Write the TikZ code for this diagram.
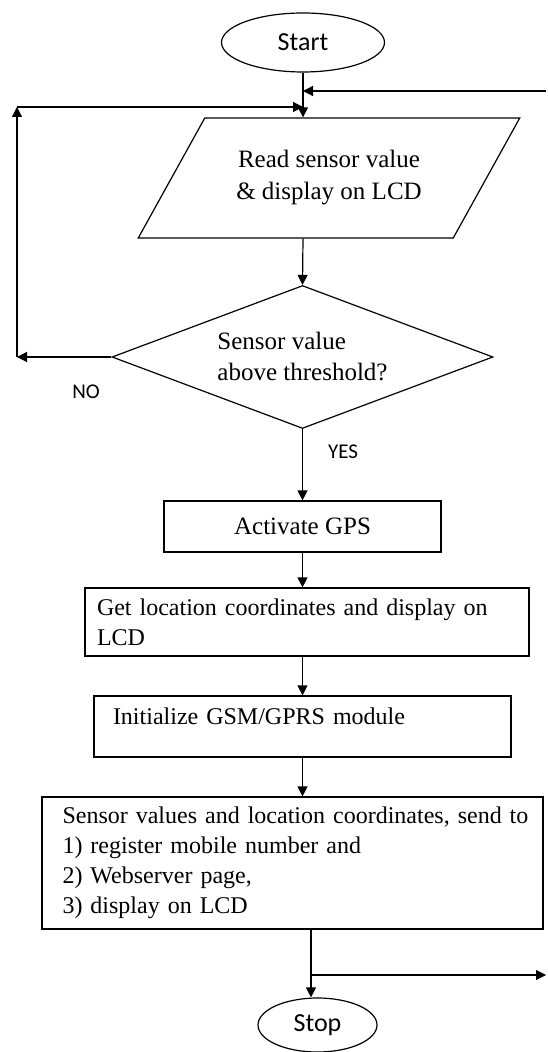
\documentclass[tikz,border=0pt]{standalone}
\usepackage{fontspec}
\setmainfont{Liberation Serif}
\newfontfamily\calibri{Carlito}
\usetikzlibrary{shapes.geometric,arrows.meta}
\tikzset{
  terminal/.style = {shape=ellipse, draw, inner sep=0pt,
                     font=\calibri\fontsize{13}{15}\selectfont},
  io/.style       = {shape=trapezium, draw, align=center,
                     trapezium left angle=52, trapezium right angle=128,
                     trapezium stretches=true,
                     font=\fontsize{12.5}{16}\selectfont},
  decision/.style = {shape=diamond, draw, align=left, inner sep=0pt,
                     font=\fontsize{12.5}{15.5}\selectfont},
  process/.style  = {shape=rectangle, draw, align=left,
                     font=\fontsize{12}{15}\selectfont},
  tag/.style      = {font=\calibri\fontsize{10.5}{12}\selectfont},
  flow/.style     = {-{Triangle[length=5pt,width=5pt]}}
}
\begin{document}
\begin{tikzpicture}[x=0.5pt, y=-0.5pt, line width=0.6pt]
  \useasboundingbox (0,0) rectangle (547,1052);

  \node[terminal, minimum width=81.5pt, minimum height=29.5pt] (start) at (303,42.5) {Start};
  \node[io, minimum width=191pt, minimum height=60pt] (read) at (329,178)
    {Read sensor value\\\& display on LCD};
  \node[decision, minimum width=190.5pt, minimum height=71.5pt, aspect=2.66] (check) at (302.5,357)
    {Sensor value\\above threshold?};
  \node[process, minimum width=138.5pt, minimum height=25.5pt, align=center,
        font=\fontsize{12.5}{15}\selectfont] (gps) at (302.5,526.5) {Activate GPS};
  \node[process, text width=218pt, inner xsep=2pt, minimum height=34pt] (loc) at (307,622)
    {\hspace*{4pt}Get location coordinates and display on\\
     \hspace*{4pt}LCD};
  \node[process, text width=189.5pt, inner xsep=9.5pt, minimum height=30.5pt,
        text height=10pt, text depth=12pt] (gsm) at (302.5,726.5) {Initialize GSM/GPRS module};
  \node[process, text width=246pt, inner xsep=2.25pt, minimum height=66pt] (send) at (292.5,863)
    {\hspace*{8pt}Sensor values and location coordinates, send to\\
     \hspace*{8pt}1) register mobile number and\\
     \hspace*{8pt}2) Webserver page,\\
     \hspace*{8pt}3) display on LCD};
  \node[terminal, minimum width=59.5pt, minimum height=27pt] (stop) at (317.5,1025) {Stop};

  \node[tag] (no) at (86,392) {NO};
  \node[tag] (yes) at (343,452) {YES};

  \coordinate (backin) at (546,91);
  \coordinate (loopb) at (17,357);
  \coordinate (loopt) at (17,107);
  \coordinate (tap) at (311,975);
  \coordinate (out) at (546,975);

  \draw[flow] (start.south) -- (start.south |- read.north);
  \draw[flow] (backin) -- (backin -| start.south);
  \draw[flow] (check.west) -- (loopb);
  \draw[flow] (loopb) -- (loopt);
  \draw[flow] (loopt) -- (loopt -| start.south);
  \draw[flow] (start.south |- read.south) -- (check.north);
  \draw[flow] (check.south) -- (gps.north);
  \draw[flow] (gps.south) -- (gps.south |- loc.north);
  \draw[flow] (gps.south |- loc.south) -- (gps.south |- gsm.north);
  \draw[flow] (gsm.south) -- (gsm.south |- send.north);
  \draw (tap |- send.south) -- (tap);
  \draw[flow] (tap) -- (tap |- stop.north);
  \draw[flow] (tap) -- (out);
\end{tikzpicture}
\end{document}
